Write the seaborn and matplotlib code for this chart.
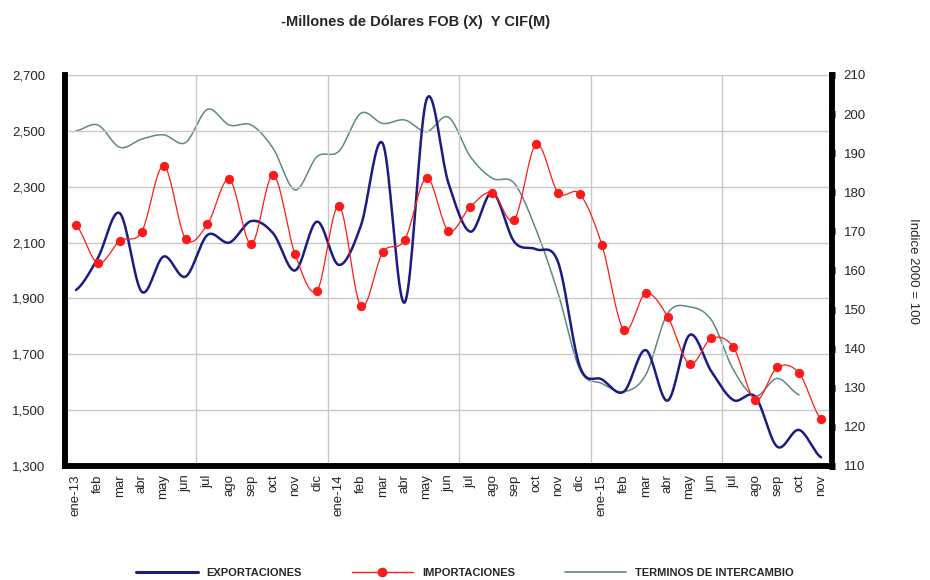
import numpy as np
import pandas as pd
import seaborn as sns
import matplotlib.pyplot as plt
from matplotlib.ticker import FuncFormatter, FixedLocator
from matplotlib.lines import Line2D

sns.set_style("white")
plt.rcParams["font.family"] = ["Liberation Sans", "DejaVu Sans"]

# ---------------------------------------------------------
# Data
# ---------------------------------------------------------
months = ["ene-13", "feb", "mar", "abr", "may", "jun", "jul", "ago", "sep", "oct", "nov", "dic",
          "ene-14", "feb", "mar", "abr", "may", "jun", "jul", "ago", "sep", "oct", "nov", "dic",
          "ene-15", "feb", "mar", "abr", "may", "jun", "jul", "ago", "sep", "oct", "nov"]

exportaciones = [1930, 2045, 2205, 1924, 2050, 1978, 2127, 2100, 2177, 2133, 2000, 2175,
                 2020, 2160, 2455, 1885, 2613, 2312, 2139, 2279, 2103, 2076, 2030, 1655,
                 1610, 1566, 1715, 1534, 1769, 1638, 1536, 1548, 1369, 1429, 1331]

importaciones = [2162, 2026, 2106, 2139, 2375, 2114, 2165, 2326, 2094, 2341, 2058, 1928,
                 2231, 1873, 2065, 2109, 2331, 2142, 2229, 2279, 2182, 2452, 2279, 2273,
                 2092, 1787, 1918, 1835, 1665, 1757, 1725, 1536, 1653, 1632, 1468]

terminos = [195.7, 197.2, 191.5, 193.6, 194.7, 192.7, 201.2, 197.2, 197.2, 191.2, 180.6, 189.1,
            190.5, 200.2, 197.6, 198.5, 195.5, 199.2, 189.1, 183.6, 182.3, 170.4, 154.2, 134.6,
            131.1, 129.0, 133.3, 149.0, 150.7, 147.3, 134.6, 127.9, 132.4, 128.2]


def smooth(values, n=20):
    # Catmull-Rom curve through the points, like Excel's "smoothed line"
    y = np.asarray(values, dtype=float)
    p = np.concatenate([[y[0]], y, [y[-1]]])
    xs, ys = [], []
    for i in range(len(y) - 1):
        p0, p1, p2, p3 = p[i], p[i + 1], p[i + 2], p[i + 3]
        t = np.linspace(0, 1, n, endpoint=False)
        yy = 0.5 * (2 * p1 + (-p0 + p2) * t + (2 * p0 - 5 * p1 + 4 * p2 - p3) * t ** 2
                    + (-p0 + 3 * p1 - 3 * p2 + p3) * t ** 3)
        xs.append(i + t)
        ys.append(yy)
    xs.append([len(y) - 1])
    ys.append([y[-1]])
    return pd.DataFrame({"x": np.concatenate(xs), "y": np.concatenate(ys)})


x = np.arange(len(months))
df_imp = pd.DataFrame({"x": x, "y": importaciones})

# ---------------------------------------------------------
# Figure
# ---------------------------------------------------------
fig = plt.figure(figsize=(9.3, 5.8), dpi=100)
ax = fig.add_axes([0.0699, 0.1966, 0.8247, 0.6741])
ax2 = ax.twinx()

navy = "#1c1c84"
red = "#ff1a1a"
gray = "#5e8a82"

sns.lineplot(data=smooth(exportaciones), x="x", y="y", ax=ax, color=navy, linewidth=1.8, zorder=3)
sns.lineplot(data=smooth(importaciones), x="x", y="y", ax=ax, color=red, linewidth=0.9, zorder=4)
sns.scatterplot(data=df_imp, x="x", y="y", ax=ax, color=red, s=45, edgecolor=red, linewidth=0, zorder=5)
sns.lineplot(data=smooth(terminos), x="x", y="y", ax=ax2, color=gray, linewidth=1.1, zorder=2)

ax.set_xlim(-0.5, len(months) - 0.5)
ax.set_ylim(1300, 2700)
ax2.set_ylim(110, 210)

ax.set_yticks(np.arange(1300, 2701, 200))
ax.yaxis.set_major_formatter(FuncFormatter(lambda v, p: f"{int(v):,}"))
ax2.set_yticks(np.arange(110, 211, 10))

ax.set_xticks(x)
ax.set_xticklabels(months, rotation=90, fontsize=9.5)
ax.xaxis.set_minor_locator(FixedLocator([5.5, 11.5, 17.5, 23.5, 29.5]))
ax.tick_params(axis="x", which="major", length=0, pad=6)
ax.tick_params(axis="x", which="minor", length=5, width=5, color="black", direction="inout")
ax.tick_params(axis="y", length=0, labelsize=9.5, pad=14)
ax2.tick_params(axis="y", length=5, width=5, color="black", direction="inout", labelsize=9.5, pad=6)

ax.set_xlabel("")
ax.set_ylabel("")
ax2.set_xlabel("")
ax2.set_ylabel("Indice 2000 = 100", rotation=-90, fontsize=9.5, labelpad=38)

ax.grid(True, axis="y", color="#c8c8c8", linewidth=1.0)
ax.grid(True, axis="x", which="minor", color="#c8c8c8", linewidth=1.0)
ax.set_axisbelow(True)

for a in (ax, ax2):
    a.spines["top"].set_visible(False)
    a.spines["left"].set_linewidth(4)
    a.spines["bottom"].set_linewidth(4)
    a.spines["right"].set_linewidth(4)
    for s in a.spines.values():
        s.set_color("black")
ax.patch.set_visible(False)
ax2.set_zorder(ax.get_zorder() - 1)
ax2.patch.set_visible(True)
ax2.patch.set_facecolor("white")

fig.text(0.447, 0.962, "-Millones de Dólares FOB (X)  Y CIF(M)", ha="center", va="center",
         fontsize=10.5, fontweight="bold")

handles = [
    Line2D([], [], color=navy, linewidth=2.2),
    Line2D([], [], color=red, linewidth=1.0, marker="o", markersize=6),
    Line2D([], [], color=gray, linewidth=1.2),
]
labels = ["EXPORTACIONES", "IMPORTACIONES", "TERMINOS DE INTERCAMBIO"]
fig.legend(handles, labels, loc="center", bbox_to_anchor=(0.5, 0.012), ncol=3, frameon=False,
           handlelength=5.5, columnspacing=4.5, prop={"size": 8, "weight": "bold"})

plt.savefig("out.png", dpi=100)
plt.close()
